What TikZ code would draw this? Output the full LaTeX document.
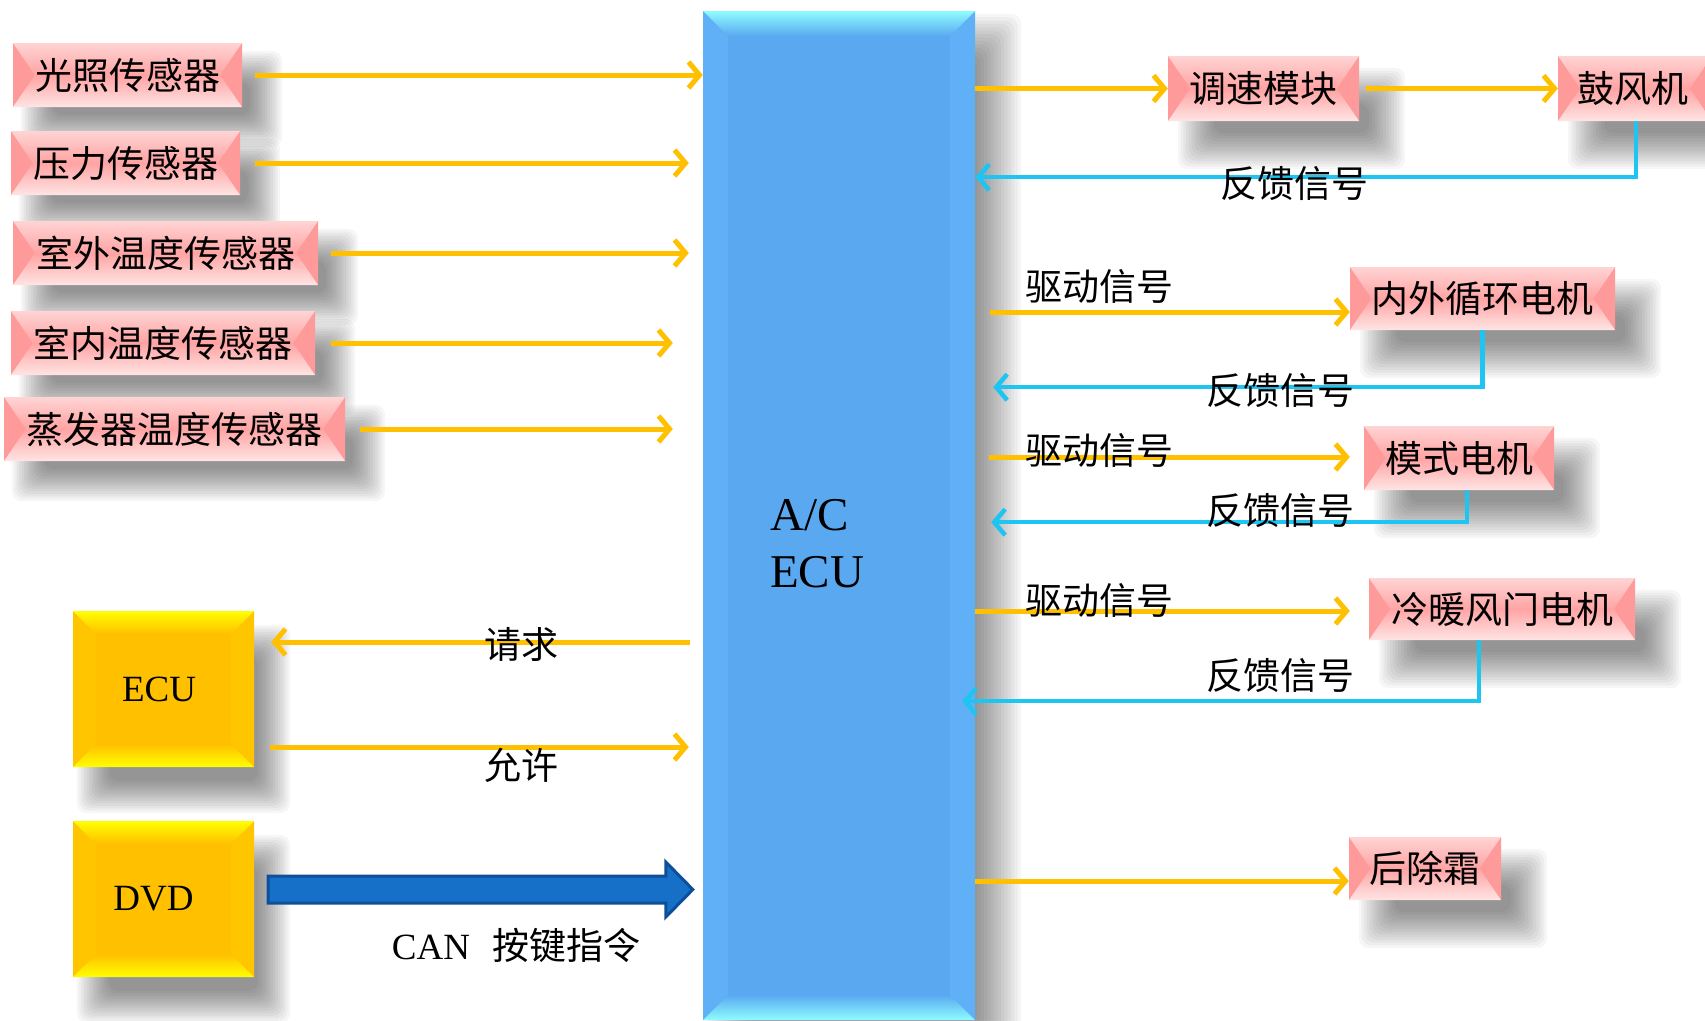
\documentclass[tikz,border=0pt]{standalone}
\usepackage{fontspec}
\setmainfont{Liberation Serif}
\newfontfamily\cjk{Noto Sans CJK SC}
\usetikzlibrary{arrows.meta,calc}
\pgfdeclarelayer{paper}
\pgfdeclarelayer{bg}
\pgfsetlayers{paper,bg,main}

\definecolor{yel}{HTML}{FFC000}
\definecolor{cyanl}{HTML}{1EC4F2}
\definecolor{pinkm}{HTML}{FFA3A3}
\definecolor{pinkt}{HTML}{FFD4D4}
\definecolor{pinkb}{HTML}{FFE4E4}
\definecolor{pinks}{HTML}{FF9A9A}
\definecolor{yelm}{HTML}{FFC000}
\definecolor{yelt}{HTML}{FFFF00}
\definecolor{yels}{HTML}{FFC600}
\definecolor{barm}{HTML}{5AA9F0}
\definecolor{bart}{HTML}{8EFCFF}
\definecolor{bars}{HTML}{5FB0F7}
\definecolor{bigfill}{HTML}{1670C8}
\definecolor{bigdraw}{HTML}{0D4F98}

\tikzset{
  bev/.style n args={6}{rectangle, inner sep=0pt, fill=#1,
    path picture={
      \path (path picture bounding box.north west) coordinate (bvA)
            (path picture bounding box.north east) coordinate (bvB)
            (path picture bounding box.south east) coordinate (bvC)
            (path picture bounding box.south west) coordinate (bvD);
      \fill[#4] (bvA) -- ([shift={(#5,-#6)}]bvA) -- ([shift={(#5,#6)}]bvD) -- (bvD) -- cycle;
      \fill[#4] (bvB) -- ([shift={(-#5,-#6)}]bvB) -- ([shift={(-#5,#6)}]bvC) -- (bvC) -- cycle;
      \shade[top color=#2, bottom color=#1] (bvA) -- (bvB) -- ([shift={(-#5,-#6)}]bvB) -- ([shift={(#5,-#6)}]bvA) -- cycle;
      \shade[top color=#1, bottom color=#3] (bvD) -- (bvC) -- ([shift={(-#5,#6)}]bvC) -- ([shift={(#5,#6)}]bvD) -- cycle;
    }},
  pinkbox/.style={bev={pinkm}{pinkt}{pinkb}{pinks}{22pt}{32pt},
    font=\cjk\fontsize{37}{40}\selectfont},
  yelbox/.style={bev={yelm}{yelt}{yelt}{yels}{23pt}{23pt},
    font=\fontsize{37}{40}\selectfont},
  barbox/.style={bev={barm}{bart}{bart}{bars}{25pt}{25pt}},
  yline/.style={draw=yel, line width=5pt, -{Straight Barb[length=11pt,width=26pt]}},
  bline/.style={draw=cyanl, line width=4.5pt, -{Straight Barb[length=11pt,width=26pt]}},
  lab/.style={font=\cjk\fontsize{37}{40}\selectfont, inner sep=0pt},
}

\newcommand\shadowof[4]{%
  \begin{pgfonlayer}{bg}
  \foreach \k in {0,...,13}{%
    \pgfmathsetmacro\ins{#4-2*#4*\k/13}
    \fill[black, opacity=0.034, rounded corners=10pt]
      ([shift={({(#2+\ins)*1pt},{-(#3+\ins)*1pt})}]#1.north west) rectangle
      ([shift={({(#2-\ins)*1pt},{-(#3-\ins)*1pt})}]#1.south east);
  }
  \end{pgfonlayer}}

\begin{document}
\begin{tikzpicture}[x=1pt,y=-1pt]
\begin{pgfonlayer}{paper}
\fill[white] (0,0) rectangle (1705,1020);
\end{pgfonlayer}
\useasboundingbox (0,0) rectangle (1705,1020);

% central A/C ECU bar
\node[barbox, minimum width=272pt, minimum height=1009pt] (ecu) at (839,515.5) {};
\node[anchor=west, align=left, inner sep=0pt, font=\fontsize{47}{57}\selectfont] (acl) at (770,544) {A/C\\ECU};

% sensors
\node[pinkbox, minimum width=229pt, minimum height=64pt] (s1) at (127.5,75) {光照传感器};
\node[pinkbox, minimum width=229pt, minimum height=64pt] (s2) at (125.5,163) {压力传感器};
\node[pinkbox, minimum width=305pt, minimum height=64pt] (s3) at (165.5,253) {室外温度传感器};
\node[pinkbox, minimum width=304pt, minimum height=64pt] (s4) at (163,343) {室内温度传感器};
\node[pinkbox, minimum width=341pt, minimum height=64pt] (s5) at (174.5,429) {蒸发器温度传感器};

% right-hand actuators
\node[pinkbox, minimum width=191pt, minimum height=65pt] (r1) at (1263.5,88.5) {调速模块};
\node[pinkbox, minimum width=154pt, minimum height=65pt] (r2) at (1635,88.5) {鼓风机\kern4pt};
\node[pinkbox, minimum width=265pt, minimum height=63pt] (r3) at (1482.5,298.5) {内外循环电机};
\node[pinkbox, minimum width=190pt, minimum height=64pt] (r4) at (1459,458) {模式电机};
\node[pinkbox, minimum width=266pt, minimum height=62pt] (r5) at (1502,609) {冷暖风门电机};
\node[pinkbox, minimum width=152pt, minimum height=63pt] (r6) at (1425,868.5) {后除霜};

% ECU and DVD
\node[yelbox, minimum width=181pt, minimum height=156pt] (e1) at (163.5,689) {ECU\kern9pt};
\node[yelbox, minimum width=181pt, minimum height=156pt] (d1) at (163.5,899) {DVD\kern20pt};

% shadows
\shadowof{ecu}{24}{25}{22}
\foreach \n in {s1,s2,s3,s4,s5}{\shadowof{\n}{24}{24}{16}}
\foreach \n in {r1,r2,r3,r4,r5,r6}{\shadowof{\n}{28}{30}{18}}
\shadowof{e1}{20}{30}{16}
\shadowof{d1}{20}{30}{16}

% sensor inputs
\draw[yline, shorten <=13pt] (s1.east) -- (s1.east -| ecu.west);
\draw[yline, shorten <=15pt, shorten >=14pt] (s2.east) -- (s2.east -| ecu.west);
\draw[yline, shorten <=13pt, shorten >=14pt] (s3.east) -- (s3.east -| ecu.west);
\draw[yline, shorten <=16pt, shorten >=30pt] (s4.east) -- (s4.east -| ecu.west);
\draw[yline, shorten <=15pt, shorten >=30pt] (s5.east) -- (s5.east -| ecu.west);

% blower
\draw[yline] (r1.west -| ecu.east) -- (r1.west);
\draw[yline, shorten <=7pt] (r1.east) -- (r2.west);
\draw[bline] ([xshift=1pt]r2.south) |- ([yshift=-56pt]r2.south -| ecu.east);
\node[lab] (f1) at (1294,183) {反馈信号};

% recirculation motor
\draw[yline, shorten <=15pt] ([yshift=-13.5pt]r3.west -| ecu.east) -- ([yshift=-13.5pt]r3.west);
\node[lab] (g1) at (1099,286) {驱动信号};
\draw[bline, shorten >=18pt] (r3.south) |- ([yshift=-57pt]r3.south -| ecu.east);
\node[lab] (f2) at (1280,390) {反馈信号};

% mode motor
\draw[yline, shorten <=14pt, shorten >=14pt] ([yshift=1pt]r4.west -| ecu.east) -- ([yshift=1pt]r4.west);
\node[lab] (g2) at (1099,450) {驱动信号};
\draw[bline, shorten >=16pt] ([xshift=8pt]r4.south) |- ([yshift=-32pt]r4.south -| ecu.east);
\node[lab] (f3) at (1280,510) {反馈信号};

% blend door motor
\draw[yline, shorten >=19pt] ([yshift=-2pt]r5.west -| ecu.east) -- ([yshift=-2pt]r5.west);
\node[lab] (g3) at (1099,600) {驱动信号};
\draw[bline] ([xshift=-23pt]r5.south) |- ([xshift=-13pt,yshift=-61pt]r5.south -| ecu.east);
\node[lab] (f4) at (1280,675) {反馈信号};

% rear defrost
\draw[yline] ([yshift=-12.5pt]r6.west -| ecu.east) -- ([yshift=-12.5pt]r6.west);

% ECU request / permit
\draw[yline, shorten <=13pt, shorten >=17pt] ([yshift=47pt]e1.east -| ecu.west) -- ([yshift=47pt]e1.east);
\node[lab] (q1) at (521,644) {请求};
\draw[yline, shorten <=16pt, shorten >=14pt] ([yshift=-58pt]e1.east) -- ([yshift=-58pt]e1.east -| ecu.west);
\node[lab] (p1) at (521,765) {允许};

% DVD CAN arrow
\coordinate (ba) at ([xshift=14pt,yshift=9.5pt]d1.east);
\coordinate (bb) at ([xshift=-10pt]ba -| ecu.west);
\draw[fill=bigfill, draw=bigdraw, line width=3pt, line join=miter]
  ([yshift=13.5pt]ba) -- ([xshift=-27pt,yshift=13.5pt]bb) -- ([xshift=-27pt,yshift=27.5pt]bb)
  -- (bb) -- ([xshift=-27pt,yshift=-27.5pt]bb) -- ([xshift=-27pt,yshift=-13.5pt]bb)
  -- ([yshift=-13.5pt]ba) -- cycle;
\node[inner sep=0pt, font=\fontsize{37}{40}\selectfont] (canl) at (516,945) {CAN\hspace{22pt}{\cjk 按键指令}};
\end{tikzpicture}
\end{document}
